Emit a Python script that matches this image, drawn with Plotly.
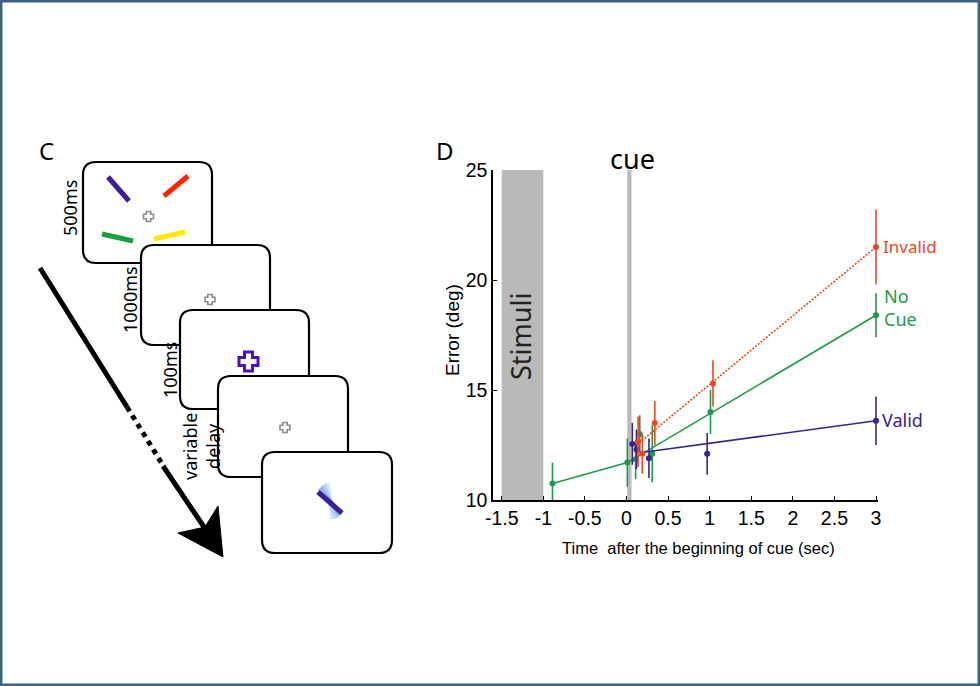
import plotly.graph_objects as go

W, H = 980, 686

# ---------------- data (panel D) ----------------
invalid_t = [0.14, 0.19, 0.34, 1.04, 3.0]
invalid_err = [12.65, 12.1, 13.5, 15.3, 21.5]
invalid_se = [1.15, 0.9, 1.0, 1.05, 1.7]
invalid_fit_t = [0.12, 3.0]
invalid_fit_err = [12.5, 21.5]

nocue_t = [-0.89, 0.01, 0.11, 0.16, 0.31, 1.01, 3.0]
nocue_err = [10.75, 11.7, 11.85, 13.0, 12.1, 14.0, 18.4]
nocue_se = [0.95, 1.1, 0.9, 0.85, 1.3, 1.0, 1.0]
nocue_fit_t = [-0.89, 0.01, 3.0]
nocue_fit_err = [10.75, 11.7, 18.4]

valid_t = [0.07, 0.12, 0.27, 0.97, 3.0]
valid_err = [12.55, 12.3, 11.9, 12.1, 13.6]
valid_se = [0.95, 0.9, 0.9, 0.95, 1.1]
valid_fit_t = [0.16, 3.0]
valid_fit_err = [12.15, 13.6]

stim_window = [-1.5, -1.0]
cue_window = [0.01, 0.06]

x_ticks = [-1.5, -1, -0.5, 0, 0.5, 1, 1.5, 2, 2.5, 3]
x_ticktext = ['-1.5', '-1', '-0.5', '0', '0.5', '1', '1.5', '2', '2.5', '3']
y_ticks = [10, 15, 20, 25]

RED = '#F0461E'
GREEN = '#1E9A4A'
PURPLE = '#3A2290'

NARROW = 'Liberation Sans Narrow, Liberation Sans, Arial, sans-serif'
HUMAN = 'Noto Sans, Open Sans, sans-serif'

X_LO, X_HI = -1.605, 3.03
PX_PER_UNIT = (876 - 493) / (3.0 - X_LO)
X_RIGHT_PX = 493 + (X_HI - X_LO) * PX_PER_UNIT

def P(x, y):
    return f"{x / W:.5f},{1 - y / H:.5f}"

def rrect(x0, y0, x1, y1, r):
    return (f"M{P(x0 + r, y0)} L{P(x1 - r, y0)} Q{P(x1, y0)} {P(x1, y0 + r)} "
            f"L{P(x1, y1 - r)} Q{P(x1, y1)} {P(x1 - r, y1)} L{P(x0 + r, y1)} "
            f"Q{P(x0, y1)} {P(x0, y1 - r)} L{P(x0, y0 + r)} Q{P(x0, y0)} {P(x0 + r, y0)} Z")

def plus(cx, cy, s, a):
    pts = [(cx - a, cy - s), (cx + a, cy - s), (cx + a, cy - a), (cx + s, cy - a),
           (cx + s, cy + a), (cx + a, cy + a), (cx + a, cy + s), (cx - a, cy + s),
           (cx - a, cy + a), (cx - s, cy + a), (cx - s, cy - a), (cx - a, cy - a)]
    return "M" + " L".join(P(x, y) for x, y in pts) + " Z"

fig = go.Figure()

def add_condition(t, e, se, ft, fe, color, dash):
    fig.add_trace(go.Scatter(x=ft, y=fe, mode='lines', cliponaxis=False,
                             line=dict(color=color, width=1.6, dash=dash),
                             hoverinfo='skip', showlegend=False))
    fig.add_trace(go.Scatter(x=t, y=e, mode='markers', cliponaxis=False,
                             marker=dict(color=color, size=6),
                             error_y=dict(type='data', array=se, visible=True,
                                          thickness=1.6, width=0, color=color),
                             showlegend=False))

add_condition(nocue_t, nocue_err, nocue_se, nocue_fit_t, nocue_fit_err, GREEN, 'solid')
add_condition(valid_t, valid_err, valid_se, valid_fit_t, valid_fit_err, PURPLE, 'solid')
add_condition(invalid_t, invalid_err, invalid_se, invalid_fit_t, invalid_fit_err, RED, '2px,1.5px')

shapes = []
annotations = []

# grey windows in panel D
shapes.append(dict(type='rect', xref='x', yref='y', x0=stim_window[0], x1=stim_window[1],
                   y0=y_ticks[0], y1=y_ticks[-1], fillcolor='#B9B9B9', line=dict(width=0),
                   layer='below'))
shapes.append(dict(type='rect', xref='x', yref='y', x0=cue_window[0], x1=cue_window[1],
                   y0=y_ticks[0], y1=y_ticks[-1], fillcolor='#B9B9B9', line=dict(width=0),
                   layer='below'))

# ---------------- panel C schematic ----------------
boxes = [(83, 162, 212, 263), (141, 245, 270, 345), (180, 310, 309, 409),
         (218, 376, 348, 477), (262, 452, 392, 553)]
for b in boxes:
    shapes.append(dict(type='path', xref='paper', yref='paper', path=rrect(*b, 13),
                       fillcolor='white', line=dict(color='black', width=2.2)))

def seg(x0, y0, x1, y1, color, width, dash='solid'):
    shapes.append(dict(type='line', xref='paper', yref='paper',
                       x0=x0 / W, y0=1 - y0 / H, x1=x1 / W, y1=1 - y1 / H,
                       line=dict(color=color, width=width, dash=dash)))

# coloured bars of the memory array
seg(108, 177, 129, 201, '#3D1C95', 5)
seg(164, 196, 188, 176, '#FF2200', 5)
seg(102, 234, 133, 241, '#1A9E3C', 5)
seg(154, 239, 185, 232, '#FFEB00', 5)

# fixation crosses
for cx, cy in [(148.5, 216.5), (210, 299.5), (285, 427.5)]:
    shapes.append(dict(type='path', xref='paper', yref='paper', path=plus(cx, cy, 5, 2.2),
                       fillcolor='white', line=dict(color='#8C8C8C', width=1.6)))
# cue cross
shapes.append(dict(type='path', xref='paper', yref='paper', path=plus(248.5, 361.5, 9.5, 4),
                   fillcolor='white', line=dict(color='#4A12C0', width=3)))

# response bar with fan
for (x0, y0, x1, y1, c) in [(327, 483, 333, 519, '#D3E4F7'), (323, 485, 337, 518, '#B3D0F2'),
                            (320, 488, 340, 515, '#8DB8EA')]:
    seg(x0, y0, x1, y1, c, 5)
seg(318, 492, 342, 513, '#3D1C95', 5)

# time arrow
seg(40, 268, 127, 407, 'black', 5)
seg(127, 407, 164, 467, 'black', 5, 'dot')
seg(163, 466, 206, 530, 'black', 5)
shapes.append(dict(type='path', xref='paper', yref='paper',
                   path="M" + " L".join(P(x, y) for x, y in
                                        [(223, 557), (178, 533), (205, 527), (218, 506)]) + " Z",
                   fillcolor='black', line=dict(color='black', width=1)))

# outer frame
shapes.append(dict(type='rect', xref='paper', yref='paper', x0=1.2 / W, x1=1 - 1.2 / W,
                   y0=1.2 / H, y1=1 - 1.2 / H, line=dict(color='#3B6389', width=2.5)))

def txt(x, y, s, size, color='black', font=HUMAN, angle=0, xanchor='center', align='center'):
    annotations.append(dict(x=x / W, y=1 - y / H, xref='paper', yref='paper', text=s,
                            showarrow=False, textangle=angle, xanchor=xanchor,
                            yanchor='middle', align=align,
                            font=dict(size=size, color=color, family=font)))

txt(46, 150, 'C', 24)
txt(445, 150, 'D', 24)
txt(70, 208, '500ms', 18, angle=-90)
txt(130, 300, '1000ms', 18, angle=-90)
txt(170, 370, '100ms', 18, angle=-90)
txt(201, 447, 'variable<br>delay', 18, angle=-90)

txt(632, 158, 'cue', 27)
txt(521, 337, 'Stimuli', 27, color='#222222', angle=-90)
txt(881, 246, 'Invalid', 17, color=RED, xanchor='left')
txt(882, 307, 'No<br>Cue', 18, color=GREEN, xanchor='left', align='left')
txt(880, 420, 'Valid', 18, color=PURPLE, xanchor='left')

txt(452, 330, 'Error (deg)', 19, font=NARROW, angle=-90)
txt(698, 548, 'Time\u00a0 after the beginning of cue (sec)', 16.5, font=NARROW)

fig.update_layout(
    width=W, height=H, margin=dict(l=0, r=0, t=0, b=0, pad=0, autoexpand=False),
    paper_bgcolor='white', plot_bgcolor='rgba(0,0,0,0)',
    showlegend=False, shapes=shapes, annotations=annotations,
    xaxis=dict(domain=[493 / W, X_RIGHT_PX / W], range=[X_LO, X_HI], tickvals=x_ticks,
               ticktext=x_ticktext, ticks='inside', ticklen=4, tickwidth=1.3,
               tickcolor='black', showline=True, linecolor='black', linewidth=1.5,
               showgrid=False, zeroline=False, automargin=False,
               tickfont=dict(family=NARROW, size=19.5, color='black')),
    yaxis=dict(domain=[(H - 500) / H, (H - 170) / H], range=[10, 25], tickvals=y_ticks,
               ticks='inside', ticklen=4, tickwidth=1.3, tickcolor='black',
               showline=True, linecolor='black', linewidth=1.5, showgrid=False,
               zeroline=False, automargin=False,
               tickfont=dict(family=NARROW, size=19.5, color='black')),
)

fig.write_html(
    "out.html",
    config={'displayModeBar': False},
    post_script="document.body.style.margin='0px';document.body.style.padding='0px';"
                "document.body.style.overflow='hidden';"
                "document.documentElement.style.overflow='hidden';",
)
